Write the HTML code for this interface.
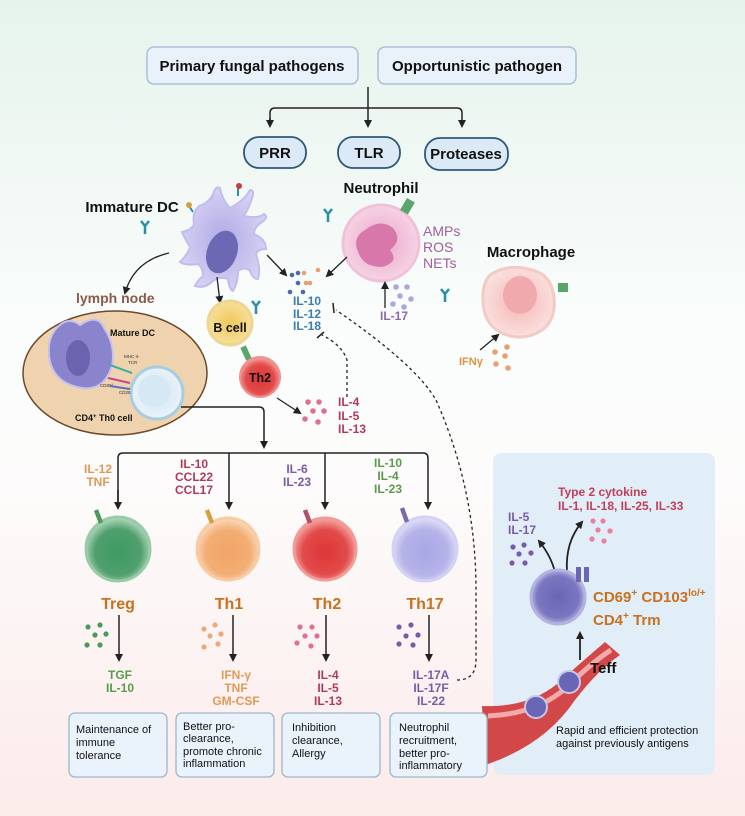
<!DOCTYPE html>
<html><head><meta charset="utf-8"><style>
html,body{margin:0;padding:0;width:745px;height:816px;overflow:hidden;font-family:"Liberation Sans",sans-serif}
</style></head><body>
<svg width="745" height="816" viewBox="0 0 745 816" xmlns="http://www.w3.org/2000/svg" font-family="Liberation Sans, sans-serif">
<defs>
<linearGradient id="bg" x1="0" y1="0" x2="0" y2="1">
<stop offset="0" stop-color="#e6f3ec"/><stop offset="0.4" stop-color="#fafdfc"/><stop offset="0.6" stop-color="#fdfbfb"/><stop offset="1" stop-color="#fbebea"/>
</linearGradient>
<radialGradient id="gTreg" cx=".5" cy=".55" r=".55"><stop offset="0" stop-color="#3f9a62"/><stop offset=".65" stop-color="#4f9f6c"/><stop offset="1" stop-color="#b9dcc4"/></radialGradient>
<radialGradient id="gTh1" cx=".5" cy=".55" r=".55"><stop offset="0" stop-color="#f2a466"/><stop offset=".65" stop-color="#f3ad73"/><stop offset="1" stop-color="#fbdcc0"/></radialGradient>
<radialGradient id="gTh2" cx=".5" cy=".55" r=".55"><stop offset="0" stop-color="#dd3636"/><stop offset=".65" stop-color="#e24a4a"/><stop offset="1" stop-color="#f6aaa6"/></radialGradient>
<radialGradient id="gTh17" cx=".5" cy=".55" r=".55"><stop offset="0" stop-color="#a9a7e6"/><stop offset=".65" stop-color="#b5b3e8"/><stop offset="1" stop-color="#e4e3f8"/></radialGradient>
<radialGradient id="gTrm" cx=".5" cy=".5" r=".55"><stop offset="0" stop-color="#6a66b6"/><stop offset=".7" stop-color="#7a76c0"/><stop offset="1" stop-color="#c8c6ea"/></radialGradient>
<radialGradient id="gDC" cx=".5" cy=".5" r=".6"><stop offset="0" stop-color="#b0aae4"/><stop offset="1" stop-color="#dcd8f6"/></radialGradient>
<radialGradient id="gNeu" cx=".5" cy=".5" r=".6"><stop offset="0" stop-color="#eaa6c8"/><stop offset="1" stop-color="#f8dcea"/></radialGradient>
<radialGradient id="gMac" cx=".5" cy=".5" r=".6"><stop offset="0" stop-color="#f4b8b6"/><stop offset="1" stop-color="#fbe6e4"/></radialGradient>
<radialGradient id="gB" cx=".5" cy=".5" r=".6"><stop offset="0" stop-color="#f0c85a"/><stop offset="1" stop-color="#f8e4a8"/></radialGradient>
<radialGradient id="gTh0" cx=".5" cy=".5" r=".6"><stop offset="0" stop-color="#cfe4f2"/><stop offset="1" stop-color="#eef6fb"/></radialGradient>
<marker id="ar" markerWidth="8" markerHeight="8" refX="6" refY="4" orient="auto" markerUnits="userSpaceOnUse"><path d="M0,0 L8,4 L0,8 z" fill="#222"/></marker>
</defs>
<rect width="745" height="816" fill="url(#bg)"/>

<!-- top boxes -->
<rect x="147" y="47" width="211" height="37" rx="7" fill="#e9f1fa" stroke="#a9c0d8" stroke-width="1.5"/>
<text x="252" y="71" text-anchor="middle" font-size="15" font-weight="bold" fill="#111">Primary fungal pathogens</text>
<rect x="378" y="47" width="198" height="37" rx="7" fill="#e9f1fa" stroke="#a9c0d8" stroke-width="1.5"/>
<text x="477" y="71" text-anchor="middle" font-size="15" font-weight="bold" fill="#111">Opportunistic pathogen</text>

<g stroke="#222" stroke-width="1.5" fill="none">
<path d="M368 87 V126" marker-end="url(#ar)"/>
<path d="M270 126 V113 q0-5 5-5 H457 q5 0 5 5 V126" marker-end="url(#ar)"/>
<path d="M270 118 V126" marker-end="url(#ar)"/>
</g>

<g stroke="#2e5878" stroke-width="1.8" fill="#dce9f6">
<rect x="244" y="137" width="62" height="31" rx="15"/>
<rect x="338" y="137" width="62" height="31" rx="15"/>
<rect x="425" y="138" width="83" height="32" rx="15"/>
</g>
<g font-size="15" font-weight="bold" fill="#111" text-anchor="middle">
<text x="275" y="158">PRR</text><text x="369" y="158">TLR</text><text x="466" y="159">Proteases</text>
<text x="381" y="193">Neutrophil</text>
<text x="132" y="212">Immature DC</text>
<text x="531" y="257">Macrophage</text>
</g>

<!-- immature DC -->
<path d="M212 200 q2-15 8-12 q2 12 10 20 q15-8 20-18 q5 0 2 8 q-3 10-8 18 q15 3 20 -2 q5 3-2 8 q-8 5-8 12 q12 5 12 15 q-8 0-10 5 q5 15 2 25 q-5 0-8-8 q-5-5-12 0 q0 12-5 20 q-4-2-5-12 q-8-3-15 2 q-8 8-18 5 q2-5 8-10 q0-8-5-12 q-12 2-18-2 q8-8 10-15 q-5-8-8-15 q10-2 12-8 q-2-12 5-18 q8-2 13-10z" fill="url(#gDC)" stroke="#c2bcef" stroke-width="2"/>
<ellipse cx="222" cy="252" rx="15" ry="22" fill="#6c68b4" transform="rotate(20 222 252)"/>
<path d="M193 212 l-4-6 M238 196 v-10" stroke="#2a8fa6" stroke-width="2"/>
<circle cx="189" cy="205" r="3" fill="#d6a040"/><circle cx="239" cy="186" r="3" fill="#c04040"/>
<!-- neutrophil -->
<circle cx="381" cy="243" r="38" fill="url(#gNeu)" stroke="#efc2da" stroke-width="3"/>
<path d="M365 230 q15-12 28-2 q10 12-3 22 q10 12-8 17 q-18 0-23-13 q-8-16 6-24z" fill="#d878aa"/>
<rect x="403" y="199" width="9" height="14" fill="#5aa56a" transform="rotate(30 407 206)"/>
<g fill="#a0609a" font-size="14"><text x="423" y="236">AMPs</text><text x="423" y="252">ROS</text><text x="423" y="268">NETs</text></g>
<!-- macrophage -->
<path d="M490 275 q18-12 42-5 q20 5 22 28 q2 22-12 32 q-15 10-32 6 q-22-6-26-26 q-4-24 6-35z" fill="url(#gMac)" stroke="#f2cac6" stroke-width="3"/>
<ellipse cx="520" cy="295" rx="17" ry="19" fill="#f0aaae"/>
<rect x="558" y="283" width="10" height="9" fill="#5aa56a"/>
<!-- antibodies -->
<g stroke="#2a8fa6" stroke-width="2.5" fill="none">
<path d="M145 226 v8 m0-8 l-4-5 m4 5 l4-5"/><path d="M328 214 v8 m0-8 l-4-5 m4 5 l4-5"/><path d="M445 294 v8 m0-8 l-4-5 m4 5 l4-5"/><path d="M256 306 v8 m0-8 l-4-5 m4 5 l4-5"/>
</g>

<!-- cytokine dots near IL-10 -->
<g fill="#4a6ca0"><circle cx="292" cy="275" r="2.3"/><circle cx="298" cy="273" r="2.3"/><circle cx="298" cy="283" r="2.3"/><circle cx="290" cy="292" r="2.3"/><circle cx="303" cy="292" r="2.3"/></g>
<g fill="#e8a070"><circle cx="304" cy="273" r="2.3"/><circle cx="310" cy="283" r="2.3"/><circle cx="318" cy="270" r="2.3"/><circle cx="306" cy="283" r="2.3"/></g>
<g fill="#3a7cb5" font-size="12" font-weight="bold"><text x="293" y="305">IL-10</text><text x="293" y="318">IL-12</text><text x="293" y="330">IL-18</text></g>
<g fill="#a9a8e3"><circle cx="396" cy="287" r="2.8"/><circle cx="407" cy="287" r="2.8"/><circle cx="400" cy="296" r="2.8"/><circle cx="411" cy="299" r="2.8"/><circle cx="393" cy="304" r="2.8"/><circle cx="404" cy="307" r="2.8"/></g>
<text x="380" y="320" fill="#8a6aa8" font-size="12" font-weight="bold">IL-17</text>
<g stroke="#222" stroke-width="1.3" fill="none">
<path d="M385 308 V283" marker-end="url(#ar)"/>
<path d="M267 255 l19 20" marker-end="url(#ar)"/>
<path d="M347 257 l-20 19" marker-end="url(#ar)"/>
<path d="M169 253 q-35 8-44 40" marker-end="url(#ar)"/>
<path d="M217 277 l3 25" marker-end="url(#ar)"/>
<path d="M480 350 l18-15" marker-end="url(#ar)"/>
<path d="M277 398 l23 15" marker-end="url(#ar)"/>
</g>
<g fill="#e8a070"><circle cx="495" cy="352" r="2.8"/><circle cx="505" cy="356" r="2.8"/><circle cx="507" cy="347" r="2.8"/><circle cx="496" cy="364" r="2.8"/><circle cx="508" cy="368" r="2.8"/></g>
<text x="459" y="365" fill="#e09040" font-size="11" font-weight="bold">IFNγ</text>

<!-- lymph node -->
<text x="76" y="303" fill="#8b5a4a" font-size="14" font-weight="bold">lymph node</text>
<ellipse cx="115" cy="373" rx="92" ry="62" fill="#efd3ae" stroke="#6b4a2e" stroke-width="1.5"/>
<path d="M55 330 q12-15 25-5 q18-12 24 3 q12 18 8 38 q-8 25-30 22 q-26-4-32-26 q-4-20 5-32z" fill="#8a84cc" stroke="#c6c1ee" stroke-width="2"/>
<ellipse cx="78" cy="358" rx="12" ry="18" fill="#6a64b0"/>
<circle cx="157" cy="393" r="26" fill="url(#gTh0)" stroke="#a8cde2" stroke-width="3"/>
<circle cx="154" cy="391" r="16" fill="#d6e8f4"/>
<text x="110" y="336" font-size="9" font-weight="bold" fill="#111">Mature DC</text>
<text x="124" y="358" font-size="4.5" fill="#333">MHC II-</text>
<text x="128" y="364" font-size="4.5" fill="#333">TCR</text>
<text x="100" y="387" font-size="4.5" fill="#333">CD80/</text><text x="119" y="394" font-size="4.5" fill="#333">CD28</text>
<g stroke-width="2"><path d="M110 365 l22 8" stroke="#3ab0a0"/><path d="M108 378 l22 5" stroke="#c04a8a"/><path d="M110 386 l20 3" stroke="#5a70c0"/></g>
<text x="75" y="421" font-size="9" font-weight="bold" fill="#111">CD4<tspan dy="-3" font-size="6">+</tspan><tspan dy="3"> Th0 cell</tspan></text>

<!-- B cell, Th2 small -->
<circle cx="230" cy="323" r="22" fill="url(#gB)" stroke="#eed592" stroke-width="3"/>
<text x="230" y="332" text-anchor="middle" font-size="12.5" font-weight="bold" fill="#111">B cell</text>
<rect x="243" y="346" width="6" height="14" fill="#5aa56a" transform="rotate(-25 246 353)"/>
<circle cx="260" cy="377" r="20" fill="url(#gTh2)" stroke="#f09090" stroke-width="2"/>
<text x="260" y="382" text-anchor="middle" font-size="12.5" font-weight="bold" fill="#111">Th2</text>
<g fill="#e07090"><circle cx="308" cy="402" r="2.8"/><circle cx="319" cy="402" r="2.8"/><circle cx="313" cy="411" r="2.8"/><circle cx="324" cy="411" r="2.8"/><circle cx="305" cy="419" r="2.8"/><circle cx="318" cy="422" r="2.8"/></g>
<g fill="#b03a5a" font-size="12" font-weight="bold"><text x="338" y="406">IL-4</text><text x="338" y="420">IL-5</text><text x="338" y="433">IL-13</text></g>

<!-- dashed -->
<g stroke="#222" stroke-width="1.3" fill="none" stroke-dasharray="3,3">
<path d="M347 397 V360 q-5-15-25-25"/>
<path d="M457 680 q19 0 19-20 V590 q0-100-40-190 q-20-35-100-90"/>
</g>
<g stroke="#222" stroke-width="1.5"><path d="M317 338 l7-6"/><path d="M333 303 l1 10"/></g>

<!-- bracket -->
<g stroke="#222" stroke-width="1.5" fill="none">
<path d="M181 407 H259 q5 0 5 5 V447" marker-end="url(#ar)"/>
<path d="M118 508 V458 q0-5 5-5 H423 q5 0 5 5 V508" marker-end="url(#ar)"/>
<path d="M229 453 V508" marker-end="url(#ar)"/>
<path d="M325 453 V508" marker-end="url(#ar)"/>
<path d="M118 490 V508" marker-end="url(#ar)"/>
</g>
<g font-size="12" font-weight="bold" text-anchor="middle">
<text x="98" y="473" fill="#e09a58">IL-12</text><text x="98" y="486" fill="#e09a58">TNF</text>
<text x="194" y="468" fill="#b03a5a">IL-10</text><text x="194" y="481" fill="#b03a5a">CCL22</text><text x="194" y="494" fill="#b03a5a">CCL17</text>
<text x="297" y="473" fill="#7a5aa8">IL-6</text><text x="297" y="486" fill="#7a5aa8">IL-23</text>
<text x="388" y="467" fill="#5a9a4a">IL-10</text><text x="388" y="480" fill="#5a9a4a">IL-4</text><text x="388" y="493" fill="#5a9a4a">IL-23</text>
</g>

<!-- T cells -->
<g stroke-width="3">
<circle cx="118" cy="549" r="32" fill="url(#gTreg)" stroke="#98cca8"/>
<circle cx="228" cy="549" r="31" fill="url(#gTh1)" stroke="#f7cca2"/>
<circle cx="325" cy="549" r="31" fill="url(#gTh2)" stroke="#f29a96"/>
<circle cx="425" cy="549" r="32" fill="url(#gTh17)" stroke="#d4d2f4"/>
</g>
<g stroke-width="4.5"><path d="M96 510 l5 13" stroke="#4a9a5a"/><path d="M207 510 l5 13" stroke="#d6a040"/><path d="M305 510 l5 13" stroke="#b0506a"/><path d="M402 508 l5 14" stroke="#7a6aa8"/></g>
<g font-size="16" font-weight="bold" fill="#c8711f" text-anchor="middle">
<text x="118" y="609">Treg</text><text x="229" y="609">Th1</text><text x="327" y="609">Th2</text><text x="425" y="609">Th17</text>
</g>
<g stroke="#222" stroke-width="1.5">
<path d="M119 615 V660" marker-end="url(#ar)"/><path d="M233 615 V660" marker-end="url(#ar)"/><path d="M326 615 V660" marker-end="url(#ar)"/><path d="M429 615 V660" marker-end="url(#ar)"/>
</g>
<g fill="#4a9a5a"><circle cx="88" cy="627" r="2.6"/><circle cx="100" cy="625" r="2.6"/><circle cx="95" cy="635" r="2.6"/><circle cx="106" cy="634" r="2.6"/><circle cx="87" cy="645" r="2.6"/><circle cx="100" cy="645" r="2.6"/></g>
<g fill="#eea878"><circle cx="204" cy="629" r="2.6"/><circle cx="215" cy="625" r="2.6"/><circle cx="210" cy="636" r="2.6"/><circle cx="221" cy="634" r="2.6"/><circle cx="204" cy="647" r="2.6"/><circle cx="218" cy="644" r="2.6"/></g>
<g fill="#e07090"><circle cx="300" cy="627" r="2.6"/><circle cx="312" cy="627" r="2.6"/><circle cx="305" cy="636" r="2.6"/><circle cx="317" cy="636" r="2.6"/><circle cx="297" cy="643" r="2.6"/><circle cx="311" cy="646" r="2.6"/></g>
<g fill="#7a5aa8"><circle cx="399" cy="627" r="2.6"/><circle cx="411" cy="625" r="2.6"/><circle cx="406" cy="636" r="2.6"/><circle cx="418" cy="635" r="2.6"/><circle cx="399" cy="644" r="2.6"/><circle cx="413" cy="645" r="2.6"/></g>
<g font-size="12" font-weight="bold" text-anchor="middle">
<text x="120" y="679" fill="#5a9a4a">TGF</text><text x="120" y="692" fill="#5a9a4a">IL-10</text>
<text x="236" y="679" fill="#e09a58">IFN-γ</text><text x="236" y="692" fill="#e09a58">TNF</text><text x="236" y="705" fill="#e09a58">GM-CSF</text>
<text x="328" y="679" fill="#b03a5a">IL-4</text><text x="328" y="692" fill="#b03a5a">IL-5</text><text x="328" y="705" fill="#b03a5a">IL-13</text>
<text x="431" y="679" fill="#7a5aa8">IL-17A</text><text x="431" y="692" fill="#7a5aa8">IL-17F</text><text x="431" y="705" fill="#7a5aa8">IL-22</text>
</g>

<!-- right panel -->
<rect x="493" y="453" width="222" height="322" rx="8" fill="#e1edf7"/>
<g font-size="12" font-weight="bold" fill="#c0405a">
<text x="558" y="496">Type 2 cytokine</text><text x="558" y="510">IL-1, IL-18, IL-25, IL-33</text>
</g>
<g font-size="12" font-weight="bold" fill="#7a5aa8"><text x="508" y="521">IL-5</text><text x="508" y="534">IL-17</text></g>
<g fill="#e880a0"><circle cx="593" cy="521" r="2.6"/><circle cx="603" cy="521" r="2.6"/><circle cx="598" cy="530" r="2.6"/><circle cx="610" cy="531" r="2.6"/><circle cx="592" cy="539" r="2.6"/><circle cx="604" cy="541" r="2.6"/></g>
<g fill="#7a5aa8"><circle cx="513" cy="547" r="2.6"/><circle cx="524" cy="545" r="2.6"/><circle cx="519" cy="554" r="2.6"/><circle cx="531" cy="553" r="2.6"/><circle cx="512" cy="563" r="2.6"/><circle cx="525" cy="563" r="2.6"/></g>
<g stroke="#222" stroke-width="1.8" fill="none">
<path d="M555 572 q-4-16-16-31" marker-end="url(#ar)"/>
<path d="M567 572 q-2-30 15-50" marker-end="url(#ar)"/>
<path d="M580 660 V633" marker-end="url(#ar)"/>
</g>
<!-- vessel -->
<path d="M482 706 q45 2 75-22 q28-25 48-42 L620 655 q-22 15-45 45 q-30 45-90 65z" fill="#d24848"/>
<path d="M488 716 q48-2 78-28 q25-25 45-38" stroke="#f4aaaa" stroke-width="5" fill="none"/>
<circle cx="569" cy="682" r="11" fill="#6a66b6" stroke="#c8c6ea" stroke-width="2"/>
<circle cx="536" cy="707" r="11" fill="#6a66b6" stroke="#c8c6ea" stroke-width="2"/>
<text x="590" y="673" font-size="15" font-weight="bold" fill="#111">Teff</text>
<circle cx="558" cy="597" r="27" fill="url(#gTrm)" stroke="#b4b2e0" stroke-width="3"/>
<rect x="576" y="567" width="5" height="15" fill="#6a66b6"/><rect x="584" y="567" width="5" height="15" fill="#6a66b6"/>
<g font-size="15" font-weight="bold" fill="#c8711f">
<text x="593" y="602">CD69<tspan dy="-6" font-size="10">+</tspan><tspan dy="6"> CD103</tspan><tspan dy="-6" font-size="10">lo/+</tspan></text>
<text x="593" y="625">CD4<tspan dy="-6" font-size="10">+</tspan><tspan dy="6"> Trm</tspan></text>
</g>
<g font-size="11" fill="#111"><text x="556" y="734">Rapid and efficient protection</text><text x="556" y="747">against previously  antigens</text></g>

<!-- bottom boxes -->
<g fill="#eaf3fc" stroke="#9eb6cc" stroke-width="1.3">
<rect x="69" y="713" width="98" height="64" rx="6"/><rect x="176" y="713" width="98" height="64" rx="6"/>
<rect x="282" y="713" width="98" height="64" rx="6"/><rect x="390" y="713" width="97" height="64" rx="6"/>
</g>
<g font-size="11" fill="#111">
<text x="76" y="733">Maintenance of</text><text x="76" y="746">immune</text><text x="76" y="759">tolerance</text>
<text x="183" y="730">Better pro-</text><text x="183" y="742">clearance,</text><text x="183" y="755">promote chronic</text><text x="183" y="767">inflammation</text>
<text x="292" y="731">Inhibition</text><text x="292" y="744">clearance,</text><text x="292" y="757">Allergy</text>
<text x="399" y="731">Neutrophil</text><text x="399" y="744">recruitment,</text><text x="399" y="757">better pro-</text><text x="399" y="769">inflammatory</text>
</g>
</svg>
</body></html>
